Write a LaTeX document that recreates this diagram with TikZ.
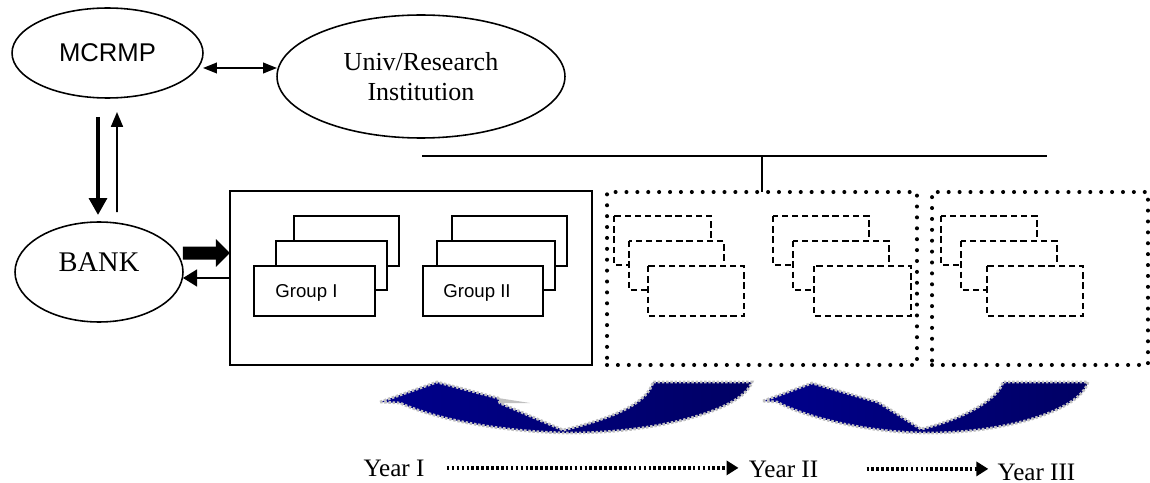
\documentclass[tikz,border=0pt]{standalone}
\usepackage{fontspec}
\setmainfont{Liberation Serif}
\newfontfamily\grpfont{Liberation Sans}
\usetikzlibrary{arrows.meta, shapes.geometric, calc}

\definecolor{navyL}{RGB}{0,0,140}
\definecolor{navyR}{RGB}{0,0,100}
\definecolor{silv}{RGB}{192,192,192}

\tikzset{
  oval/.style={ellipse, draw, line width=0.9pt, inner sep=0pt, outer sep=0pt},
  grpbox/.style={draw, fill=white, line width=1.1pt},
  ghostbox/.style={draw, fill=white, line width=0.9pt, dash pattern=on 3.6pt off 2.2pt},
  phasebox/.style={rectangle, draw, inner sep=0pt, outer sep=0pt},
  dotbox/.style={phasebox, line width=2.3pt, line cap=round, dash pattern=on 0pt off 6.2pt},
  grptext/.style={font=\grpfont\fontsize{10.6}{13}\selectfont, inner sep=0pt, anchor=base west},
  yeartext/.style={font=\fontsize{14.3}{17}\selectfont, inner sep=0pt, anchor=base},
  yeararrow/.style={line width=1.9pt, dash pattern=on 1.5pt off 1.3pt, -{Triangle[length=6.8pt,width=8pt]}},
  swoosh/.style={left color=navyL, right color=navyR, draw=silv, line width=1.6pt, dash pattern=on 1.4pt off 1pt},
}

\begin{document}
\begin{tikzpicture}[x=0.02cm, y=-0.02cm]
\useasboundingbox (0,0) rectangle (1150,483);

\node[oval, minimum width=3.82cm, minimum height=1.8cm, font=\grpfont\fontsize{14.6}{17}\selectfont] (mcrmp) at (107.5,53) {MCRMP};
\node[oval, minimum width=5.76cm, minimum height=2.46cm, align=center, font=\fontsize{14.8}{17}\selectfont] (univ) at (421,76.5) {Univ/Research\\Institution};
\node[oval, minimum width=3.36cm, minimum height=2cm] (bank) at (99,272) {};
\node[font=\fontsize{16.2}{19}\selectfont, inner sep=0pt] (banktxt) at (99,262) {BANK};

\node[phasebox, line width=1.1pt, minimum width=7.24cm, minimum height=3.48cm] (phase1) at (411,278) {};
\node[dotbox, minimum width=6.2cm, minimum height=3.46cm] (phase2) at (762,278.5) {};
\node[dotbox, minimum width=4.32cm, minimum height=3.46cm] (phase3) at (1040,278.5) {};

% group I
\draw[grpbox] (294,216) rectangle (399,266);
\draw[grpbox] (276,241) rectangle (387,290);
\draw[grpbox] (254,266) rectangle (375,316);
\node[grptext] (grp1) at (275,297) {Group I};

% group II
\draw[grpbox] (452,216) rectangle (567,266);
\draw[grpbox] (437,241) rectangle (555,290);
\draw[grpbox] (423,266) rectangle (543,316);
\node[grptext] (grp2) at (443,297) {Group II};

% later groups
\draw[ghostbox] (614,216) rectangle (711,265);
\draw[ghostbox] (629,241) rectangle (724,290);
\draw[ghostbox] (648,266) rectangle (744,316);
\draw[ghostbox] (773,216) rectangle (869,265);
\draw[ghostbox] (793,241) rectangle (889,290);
\draw[ghostbox] (814,266) rectangle (911,316);
\draw[ghostbox] (941,216) rectangle (1037,265);
\draw[ghostbox] (961,241) rectangle (1057,290);
\draw[ghostbox] (987,266) rectangle (1083,316);

\draw[line width=1.1pt, {Triangle[length=7.9pt,width=6pt]}-{Triangle[length=7.9pt,width=6pt]}] ([yshift=-0.3cm]mcrmp.east) -- ([yshift=0.17cm]univ.west);
\draw[line width=2.8pt, -{Triangle[length=9.6pt,width=10pt]}, shorten <=0.38cm, shorten >=0.14cm] ($(mcrmp.south)+(-9.5,0)$) -- ($(bank.north)+(-1,0)$);
\draw[line width=1.1pt, -{Triangle[length=8.5pt,width=6.8pt]}, shorten <=0.2cm, shorten >=0.28cm] ($(bank.north)+(18,0)$) -- ($(mcrmp.south)+(9.5,0)$);
\draw[line width=7.4pt, -{Triangle[length=8pt,width=15.3pt]}] ([yshift=0.38cm]bank.east) -- ([yshift=0.5cm]phase1.west);
\draw[line width=1.1pt, -{Triangle[length=8pt,width=9.6pt]}] (phase1.west) -- ([yshift=-0.12cm]bank.east);

\coordinate (barL) at (422,156);
\coordinate (barR) at (1047,156);
\draw[line width=1.1pt] (barL) -- (barR);
\draw[line width=1.1pt] (phase2.north |- barL) -- (phase2.north);

% year swooshes
\path[swoosh] (380,402) -- (437,382) -- (498,398) -- (500,403) -- (563,430)
  .. controls (615,418) and (648,402) .. (653,382) -- (752,382)
  .. controls (742,412) and (650,434) .. (565,433)
  .. controls (490,431) and (430,417) .. (400,403) -- cycle;
\fill[silv] (498,398) -- (530,403) -- (500,403) -- cycle;
\path[swoosh] (763,401) -- (812,383) -- (867,399) -- (878,402) -- (921,429)
  .. controls (960,420) and (998,400) .. (1003,382) -- (1088,382)
  .. controls (1080,412) and (1000,434) .. (923,433)
  .. controls (860,432) and (800,415) .. (777,402) -- cycle;

\node[yeartext] (yr1) at (394,476) {Year I};
\node[yeartext] (yr2) at (783.5,477) {Year II};
\node[yeartext] (yr3) at (1036.5,480) {Year III};
\draw[yeararrow, shorten <=0.44cm, shorten >=0.2cm] (yr1.east) -- (yr1.east -| yr2.west);
\draw[yeararrow, shorten <=0.96cm, shorten >=0.18cm] (yr2.east) -- (yr2.east -| yr3.west);
\end{tikzpicture}
\end{document}
